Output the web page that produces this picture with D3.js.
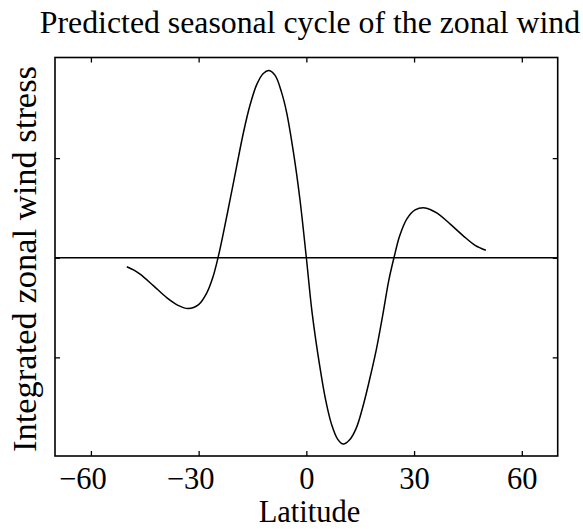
<!DOCTYPE html>
<html>
<head>
<meta charset="utf-8">
<script src="https://cdn.jsdelivr.net/npm/d3@7"></script>
<style>
  html, body { margin: 0; padding: 0; background: #fff; }
  svg { display: block; }
  text { font-family: "Liberation Serif", "Times New Roman", serif; fill: #000; }
</style>
</head>
<body>
<script>
// ---- data ----
const title = "Predicted seasonal cycle of the zonal wind";
const xLabel = "Latitude";
const yLabel = "Integrated zonal wind stress";
const xTicks = [-60, -30, 0, 30, 60];
const yTicks = [-1, 0, 1];
const latitude = [-50, -48, -46.3, -42.6, -38.9, -35.6, -32.9, -30, -27.7, -25.9, -24.6, -23.1, -21.2, -19.4, -17.5, -15.7, -13.8, -12, -10.4, -8.7, -6.9, -5.5, -3.6, -1.8, 0, 1.6, 3.7, 5.5, 7, 8.7, 10.3, 12, 13.9, 15.7, 17.5, 19.5, 21.3, 23, 24.4, 26, 28, 30.3, 33.1, 36.3, 40, 43.7, 47, 50];
const stress = [-0.09, -0.125, -0.165, -0.28, -0.40, -0.48, -0.51, -0.47, -0.35, -0.18, 0, 0.25, 0.59, 0.92, 1.26, 1.53, 1.74, 1.85, 1.88, 1.83, 1.66, 1.46, 1.06, 0.59, 0, -0.55, -1.08, -1.45, -1.67, -1.82, -1.87, -1.83, -1.71, -1.50, -1.24, -0.92, -0.57, -0.22, 0, 0.22, 0.39, 0.48, 0.50, 0.45, 0.34, 0.22, 0.125, 0.075];

// ---- layout ----
const W = 583, H = 529;
const m = { left: 55, right: 583 - 557.7, top: 57.5, bottom: 529 - 456 };
const iw = W - m.left - m.right, ih = H - m.top - m.bottom;
const FONT = '"Liberation Serif", "Times New Roman", serif';

const svg = d3.select("body").append("svg").attr("width", W).attr("height", H);
const g = svg.append("g").attr("transform", `translate(${m.left},${m.top})`);

const x = d3.scaleLinear().domain([-70, 70]).range([0, iw]);
const y = d3.scaleLinear().domain([-1.99, 2.01]).range([ih, 0]);

// axes with inward ticks
const tickLen = 5;
const axB = g.append("g").attr("transform", `translate(0,${ih})`)
  .call(d3.axisBottom(x).tickValues(xTicks).tickSizeInner(-tickLen).tickSizeOuter(0).tickPadding(11.5)
    .tickFormat(d => String(Math.abs(d))));
const axT = g.append("g")
  .call(d3.axisTop(x).tickValues(xTicks).tickSizeInner(-tickLen).tickSizeOuter(0).tickFormat(""));
const axL = g.append("g")
  .call(d3.axisLeft(y).tickValues(yTicks).tickSizeInner(-tickLen).tickSizeOuter(0).tickFormat(""));
const axR = g.append("g").attr("transform", `translate(${iw},0)`)
  .call(d3.axisRight(y).tickValues(yTicks).tickSizeInner(-tickLen).tickSizeOuter(0).tickFormat(""));

[axB, axT, axL, axR].forEach(a => {
  a.select(".domain").remove();
  a.selectAll(".tick line").attr("stroke", "#000").attr("stroke-width", 1.3);
});
// digits centred on the tick, minus sign hanging to the left
axB.selectAll(".tick text")
  .style("font-family", FONT).style("font-size", "30.5px").attr("fill", "#000")
  .each(function(d) {
    if (d < 0) {
      const t = d3.select(this);
      const w = this.getComputedTextLength();
      t.attr("text-anchor", "end").attr("x", w / 2);
      t.text("\u2212" + Math.abs(d));
    }
  });

// box
g.append("rect").attr("x", 0).attr("y", 0).attr("width", iw).attr("height", ih)
  .attr("fill", "none").attr("stroke", "#000").attr("stroke-width", 1.6);

// zero line
g.append("line").attr("x1", 0).attr("x2", iw).attr("y1", y(0)).attr("y2", y(0))
  .attr("stroke", "#000").attr("stroke-width", 1.5);

// curve
const pts = latitude.map((d, i) => [d, stress[i]]);
g.append("path").datum(pts)
  .attr("fill", "none").attr("stroke", "#000").attr("stroke-width", 1.5)
  .attr("d", d3.line().x(d => x(d[0])).y(d => y(d[1])).curve(d3.curveCatmullRom.alpha(0.5)));

// labels
svg.append("text").attr("x", 310).attr("y", 33).attr("text-anchor", "middle")
  .style("font-size", "31.8px").text(title);
svg.append("text").attr("x", 309.5).attr("y", 522.3).attr("text-anchor", "middle")
  .style("font-size", "30.5px").text(xLabel);
svg.append("text").attr("transform", `translate(36,259) rotate(-90)`)
  .attr("text-anchor", "middle").style("font-size", "34.5px").text(yLabel);
</script>
</body>
</html>
